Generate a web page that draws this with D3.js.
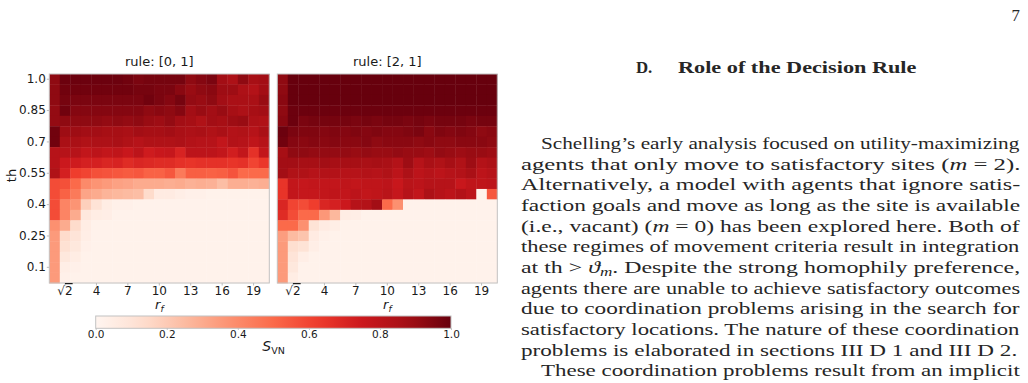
<!doctype html>
<html>
<head>
  <meta charset="utf-8">
  <script src="https://cdnjs.cloudflare.com/ajax/libs/d3/7.8.5/d3.min.js"></script>
  <style>
    body { margin: 0; background: white; }
    svg { display: block; }
    .lbl { font-family: 'DejaVu Sans', sans-serif; fill: #1a1a1a; }
    .tx { font-family: 'Liberation Serif', 'DejaVu Serif', serif; font-size: 16.8px; fill: #262626; }
  </style>
</head>
<body>
<script>
  // ---- data ----
  const rfLabels = ["1","√2","2","3","4","5","6","7","8","9","10","11","12","13","14","15","16","17","18","19","20"];
  const thValues = [1.0,0.95,0.9,0.85,0.8,0.75,0.7,0.65,0.6,0.55,0.5,0.45,0.4,0.35,0.3,0.25,0.2,0.15,0.1,0.05];
  const xTickLabels = ["√2","4","7","10","13","16","19"];
  const yTickValues = [1.0,0.85,0.7,0.55,0.4,0.25,0.1];
  const cbarTicks = [0,0.2,0.4,0.6,0.8,1.0];
  const panelTitles = ["rule: [0, 1]", "rule: [2, 1]"];

  // S_VN, rows from th = 1.0 (top) down to th = 0.05
  const svnRule01 = [
    [0.92,0.99,0.99,0.99,0.99,0.99,0.99,0.98,0.96,0.97,0.97,0.97,0.97,0.92,0.94,0.96,0.88,0.85,0.92,0.87,0.88],
    [0.92,0.98,0.98,0.98,0.98,0.98,0.98,0.98,0.97,0.97,0.96,0.96,0.93,0.90,0.92,0.93,0.89,0.89,0.85,0.83,0.88],
    [0.92,0.97,0.96,0.96,0.96,0.96,0.96,0.96,0.96,0.98,0.96,0.94,0.97,0.91,0.90,0.92,0.88,0.86,0.86,0.86,0.90],
    [0.91,0.98,0.94,0.94,0.94,0.94,0.94,0.94,0.94,0.92,0.93,0.92,0.94,0.88,0.90,0.88,0.90,0.87,0.85,0.87,0.88],
    [0.91,0.92,0.92,0.92,0.92,0.91,0.92,0.91,0.92,0.90,0.89,0.91,0.88,0.87,0.84,0.88,0.87,0.89,0.90,0.85,0.84],
    [0.98,0.89,0.89,0.88,0.88,0.87,0.87,0.86,0.88,0.87,0.87,0.88,0.86,0.85,0.86,0.84,0.86,0.83,0.84,0.82,0.86],
    [0.98,0.86,0.86,0.84,0.85,0.85,0.86,0.84,0.82,0.84,0.84,0.84,0.85,0.83,0.82,0.82,0.78,0.83,0.82,0.79,0.82],
    [0.82,0.82,0.82,0.78,0.80,0.78,0.79,0.76,0.80,0.74,0.76,0.77,0.71,0.80,0.80,0.80,0.78,0.73,0.78,0.66,0.78],
    [0.82,0.75,0.74,0.72,0.72,0.70,0.71,0.68,0.70,0.69,0.68,0.68,0.66,0.65,0.66,0.66,0.66,0.65,0.66,0.60,0.64],
    [0.84,0.72,0.62,0.60,0.57,0.56,0.55,0.54,0.55,0.52,0.52,0.55,0.45,0.53,0.53,0.52,0.53,0.56,0.50,0.50,0.50],
    [0.58,0.57,0.50,0.40,0.37,0.35,0.33,0.32,0.30,0.30,0.30,0.29,0.30,0.28,0.29,0.28,0.24,0.29,0.29,0.28,0.29],
    [0.58,0.52,0.45,0.32,0.30,0.27,0.26,0.25,0.24,0.14,0.06,0.06,0.04,0.03,0.03,0.02,0.02,0.02,0.02,0.02,0.02],
    [0.58,0.42,0.37,0.18,0.11,0.05,0.03,0.03,0.02,0.02,0.02,0.02,0.02,0.02,0.02,0.02,0.02,0.02,0.02,0.02,0.02],
    [0.58,0.42,0.30,0.08,0.05,0.04,0.02,0.02,0.02,0.02,0.02,0.02,0.02,0.02,0.02,0.02,0.02,0.02,0.02,0.02,0.02],
    [0.38,0.30,0.14,0.05,0.02,0.02,0.02,0.02,0.02,0.02,0.02,0.02,0.02,0.02,0.02,0.02,0.02,0.02,0.02,0.02,0.02],
    [0.35,0.14,0.10,0.04,0.02,0.02,0.02,0.02,0.02,0.02,0.02,0.02,0.02,0.02,0.02,0.02,0.02,0.02,0.02,0.02,0.02],
    [0.35,0.12,0.08,0.03,0.02,0.02,0.02,0.02,0.02,0.02,0.02,0.02,0.02,0.02,0.02,0.02,0.02,0.02,0.02,0.02,0.02],
    [0.35,0.08,0.05,0.02,0.02,0.02,0.02,0.02,0.02,0.02,0.02,0.02,0.02,0.02,0.02,0.02,0.02,0.02,0.02,0.02,0.02],
    [0.35,0.04,0.03,0.02,0.02,0.02,0.02,0.02,0.02,0.02,0.02,0.02,0.02,0.02,0.02,0.02,0.02,0.02,0.02,0.02,0.02],
    [0.35,0.03,0.02,0.02,0.02,0.02,0.02,0.02,0.02,0.02,0.02,0.02,0.02,0.02,0.02,0.02,0.02,0.02,0.02,0.02,0.02]
  ];
  const svnRule21 = [
    [0.92,1.00,1.00,1.00,1.00,1.00,1.00,1.00,1.00,1.00,1.00,1.00,1.00,1.00,1.00,1.00,1.00,1.00,1.00,1.00,1.00],
    [0.92,1.00,1.00,1.00,1.00,1.00,1.00,1.00,1.00,1.00,1.00,1.00,1.00,1.00,1.00,1.00,1.00,1.00,1.00,1.00,1.00],
    [0.93,1.00,1.00,1.00,1.00,1.00,1.00,1.00,1.00,1.00,1.00,1.00,1.00,1.00,1.00,1.00,1.00,1.00,1.00,1.00,1.00],
    [0.92,0.99,0.99,0.99,0.99,0.99,0.99,0.99,0.99,0.99,0.99,0.99,0.99,0.99,0.99,0.99,0.99,0.99,0.99,0.99,0.99],
    [0.93,0.99,0.96,0.97,0.97,0.97,0.97,0.96,0.97,0.96,0.97,0.97,0.96,0.97,0.96,0.97,0.97,0.97,0.96,0.97,0.97],
    [0.99,0.96,0.95,0.95,0.94,0.95,0.94,0.95,0.94,0.95,0.94,0.94,0.95,0.96,0.93,0.95,0.94,0.95,0.94,0.92,0.93],
    [0.98,0.94,0.93,0.94,0.93,0.94,0.93,0.93,0.94,0.92,0.93,0.93,0.93,0.92,0.93,0.92,0.92,0.93,0.93,0.93,0.92],
    [0.87,0.92,0.92,0.91,0.91,0.91,0.91,0.90,0.91,0.90,0.90,0.91,0.90,0.90,0.89,0.91,0.90,0.89,0.90,0.90,0.89],
    [0.88,0.88,0.87,0.87,0.88,0.87,0.87,0.87,0.86,0.87,0.86,0.83,0.89,0.82,0.86,0.84,0.87,0.84,0.89,0.83,0.85],
    [0.88,0.84,0.84,0.82,0.83,0.83,0.82,0.82,0.83,0.82,0.84,0.80,0.85,0.80,0.82,0.80,0.82,0.83,0.86,0.80,0.82],
    [0.65,0.78,0.77,0.78,0.78,0.78,0.79,0.78,0.79,0.79,0.80,0.76,0.81,0.80,0.82,0.82,0.82,0.76,0.79,0.79,0.80],
    [0.65,0.78,0.77,0.77,0.78,0.79,0.78,0.80,0.78,0.79,0.81,0.77,0.82,0.78,0.85,0.82,0.80,0.83,0.80,0.02,0.55],
    [0.70,0.60,0.58,0.62,0.70,0.72,0.75,0.82,0.83,0.88,0.50,0.38,0.02,0.02,0.02,0.02,0.02,0.02,0.02,0.02,0.02],
    [0.68,0.58,0.50,0.50,0.36,0.26,0.05,0.04,0.02,0.02,0.02,0.02,0.02,0.02,0.02,0.02,0.02,0.02,0.02,0.02,0.02],
    [0.50,0.50,0.38,0.11,0.06,0.04,0.02,0.02,0.02,0.02,0.02,0.02,0.02,0.02,0.02,0.02,0.02,0.02,0.02,0.02,0.02],
    [0.34,0.25,0.22,0.06,0.03,0.02,0.02,0.02,0.02,0.02,0.02,0.02,0.02,0.02,0.02,0.02,0.02,0.02,0.02,0.02,0.02],
    [0.35,0.13,0.11,0.04,0.02,0.02,0.02,0.02,0.02,0.02,0.02,0.02,0.02,0.02,0.02,0.02,0.02,0.02,0.02,0.02,0.02],
    [0.35,0.10,0.04,0.02,0.02,0.02,0.02,0.02,0.02,0.02,0.02,0.02,0.02,0.02,0.02,0.02,0.02,0.02,0.02,0.02,0.02],
    [0.35,0.08,0.02,0.02,0.02,0.02,0.02,0.02,0.02,0.02,0.02,0.02,0.02,0.02,0.02,0.02,0.02,0.02,0.02,0.02,0.02],
    [0.35,0.05,0.02,0.02,0.02,0.02,0.02,0.02,0.02,0.02,0.02,0.02,0.02,0.02,0.02,0.02,0.02,0.02,0.02,0.02,0.02]
  ];

  // page text, one entry per printed line; [text, style]
  const pageNumber = "7";
  const headingNum = "D.";
  const headingText = "Role of the Decision Rule";
  const paraLines = [
    { indent: true,  just: true,  segs: [["Schelling’s early analysis focused on utility-maximizing"]] },
    { indent: false, just: true,  segs: [["agents that only move to satisfactory sites ("], ["m","i"], [" = 2)."]] },
    { indent: false, just: true,  segs: [["Alternatively, a model with agents that ignore satis-"]] },
    { indent: false, just: true,  segs: [["faction goals and move as long as the site is available"]] },
    { indent: false, just: true,  segs: [["(i.e., vacant) ("], ["m","i"], [" = 0) has been explored here. Both of"]] },
    { indent: false, just: true,  segs: [["these regimes of movement criteria result in integration"]] },
    { indent: false, just: true,  segs: [["at th > "], ["ϑ","i"], ["m","sub"], [". Despite the strong homophily preference,"]] },
    { indent: false, just: true,  segs: [["agents there are unable to achieve satisfactory outcomes"]] },
    { indent: false, just: true,  segs: [["due to coordination problems arising in the search for"]] },
    { indent: false, just: true,  segs: [["satisfactory locations. The nature of these coordination"]] },
    { indent: false, just: false, segs: [["problems is elaborated in sections III D 1 and III D 2."]] },
    { indent: true,  just: true,  segs: [["These coordination problems result from an implicit"]] }
  ];

  // ---- layout ----
  const W = 1028, H = 383;
  const panelLeft = [49.3, 277.3];
  const panelW = 220, panelH = 209, panelTop = 74;

  const svg = d3.select('body').append('svg')
    .attr('width', W)
    .attr('height', H);

  const redsStops = ["#fff5f0","#fee0d2","#fcbba1","#fc9272","#fb6a4a","#ef3b2c","#cb181d","#a50f15","#67000d"];
  const color = d3.scaleLinear()
    .domain(d3.range(9).map(i => i / 8))
    .range(redsStops)
    .interpolate(d3.interpolateRgb)
    .clamp(true);

  const xScale = d3.scaleBand().domain(rfLabels).range([0, panelW]);
  const yScale = d3.scaleBand().domain(thValues).range([0, panelH]);

  const grids = [svnRule01, svnRule21];

  grids.forEach((grid, p) => {
    const g = svg.append('g')
      .attr('transform', `translate(${panelLeft[p]},${panelTop})`);

    const cells = [];
    grid.forEach((row, i) => row.forEach((v, j) => cells.push({ th: thValues[i], rf: rfLabels[j], v })));

    g.selectAll('rect.cell').data(cells).enter().append('rect')
      .attr('class', 'cell')
      .attr('x', d => xScale(d.rf))
      .attr('y', d => yScale(d.th))
      .attr('width', xScale.bandwidth() + 0.4)
      .attr('height', yScale.bandwidth() + 0.4)
      .attr('fill', d => color(d.v));

    g.append('rect')
      .attr('x', 0).attr('y', 0)
      .attr('width', panelW).attr('height', panelH)
      .attr('fill', 'none')
      .attr('stroke', '#c2c2c2')
      .attr('stroke-width', 1);

    // title
    g.append('text')
      .attr('class', 'lbl')
      .attr('x', panelW / 2).attr('y', -8)
      .attr('text-anchor', 'middle')
      .style('font-size', '13px')
      .text(panelTitles[p]);

    // x axis
    const xAxis = g.append('g')
      .attr('transform', `translate(0,${panelH})`)
      .call(d3.axisBottom(xScale).tickValues(xTickLabels).tickSize(2.5).tickPadding(1));
    xAxis.select('.domain').remove();
    xAxis.selectAll('line').attr('stroke', '#bbb');
    xAxis.selectAll('text').attr('class', 'lbl').style('font-size', '12px').attr('fill', '#1a1a1a');
    xAxis.selectAll('.tick text').filter(d => d === "√2").each(function () {
      const t = d3.select(this).text(null);
      t.append('tspan').text('√');
      t.append('tspan').style('text-decoration', 'overline').text('2');
    });

    // x label r_f
    const xl = g.append('text')
      .attr('class', 'lbl')
      .attr('x', panelW / 2).attr('y', panelH + 26)
      .attr('text-anchor', 'middle')
      .style('font-size', '13px');
    xl.append('tspan').style('font-style', 'italic').text('r');
    xl.append('tspan').style('font-style', 'italic').style('font-size', '9px').attr('dy', 2.5).text('f');

    if (p === 0) {
      const yAxis = g.append('g')
        .call(d3.axisLeft(yScale).tickValues(yTickValues).tickSize(2.5).tickPadding(1)
          .tickFormat(d => d === 1 ? "1.0" : String(d)));
      yAxis.select('.domain').remove();
      yAxis.selectAll('line').attr('stroke', '#bbb');
      yAxis.selectAll('text').attr('class', 'lbl').style('font-size', '12px').attr('fill', '#1a1a1a');

      g.append('text')
        .attr('class', 'lbl')
        .attr('transform', `translate(${-33},${panelH / 2 - 3}) rotate(-90)`)
        .attr('text-anchor', 'middle')
        .style('font-size', '13px')
        .text('th');
    }
  });

  // ---- colorbar ----
  const cbX = 95.7, cbY = 316, cbW = 355.3, cbH = 12.3;
  const grad = svg.append('defs').append('linearGradient')
    .attr('id', 'reds').attr('x1', '0%').attr('x2', '100%');
  d3.range(0, 1.0001, 0.05).forEach(t => {
    grad.append('stop').attr('offset', `${t * 100}%`).attr('stop-color', color(t));
  });
  svg.append('rect')
    .attr('x', cbX).attr('y', cbY).attr('width', cbW).attr('height', cbH)
    .attr('fill', 'url(#reds)')
    .attr('stroke', '#c2c2c2').attr('stroke-width', 1);

  const cbScale = d3.scaleLinear().domain([0, 1]).range([cbX, cbX + cbW]);
  const cbAxis = svg.append('g')
    .attr('transform', `translate(0,${cbY + cbH})`)
    .call(d3.axisBottom(cbScale).tickValues(cbarTicks).tickSize(1.5).tickPadding(1).tickFormat(d3.format('.1f')));
  cbAxis.select('.domain').remove();
  cbAxis.selectAll('line').attr('stroke', '#bbb');
  cbAxis.selectAll('text').attr('class', 'lbl').style('font-size', '10.5px').attr('fill', '#1a1a1a');

  const cbl = svg.append('text')
    .attr('class', 'lbl')
    .attr('x', 273.5).attr('y', 351)
    .attr('text-anchor', 'middle')
    .style('font-size', '14px');
  cbl.append('tspan').style('font-style', 'italic').text('S');
  cbl.append('tspan').style('font-size', '9.5px').attr('dy', 2.5).text('VN');

  // ---- page text ----
  const textLeft = 521, textRight = 1020, indentW = 20;
  const baseline0 = 149, lineStep = 20.65;

  function addLine(segs, cls) {
    const t = svg.append('text').attr('class', cls);
    segs.forEach(([s, st]) => {
      const ts = t.append('tspan').text(s);
      if (st === 'i') ts.style('font-style', 'italic');
      if (st === 'sub') ts.style('font-style', 'italic').style('font-size', '12px').attr('dy', 3);
      if (st !== 'sub' && t.selectAll('tspan').size() > 1) {
        const prev = t.selectAll('tspan').nodes();
        const before = prev[prev.length - 2];
        if (d3.select(before).attr('dy') === '3') ts.attr('dy', -3);
      }
    });
    return t;
  }

  svg.append('text').attr('class', 'tx')
    .attr('x', textRight).attr('y', 21)
    .attr('text-anchor', 'end')
    .text(pageNumber);

  svg.append('text').attr('class', 'tx')
    .attr('x', 636).attr('y', 73)
    .style('font-weight', 'bold')
    .text(headingNum);
  const head = svg.append('text').attr('class', 'tx')
    .style('font-weight', 'bold')
    .text(headingText);
  const hw = head.node().getBBox().width;
  head.attr('transform', `translate(678,73) scale(${239 / hw},1)`);

  const lineNodes = paraLines.map((ln, i) => {
    const t = addLine(ln.segs, 'tx');
    const w = t.node().getBBox().width;
    const left = textLeft + (ln.indent ? indentW : 0);
    return { t, w, left, just: ln.just, y: baseline0 + i * lineStep };
  });
  const factors = lineNodes.filter(d => d.just).map(d => (textRight - d.left) / d.w);
  const meanFactor = d3.mean(factors);
  lineNodes.forEach(d => {
    const sx = d.just ? (textRight - d.left) / d.w : meanFactor;
    d.t.attr('transform', `translate(${d.left},${d.y}) scale(${sx},1)`);
  });
</script>
</body>
</html>
